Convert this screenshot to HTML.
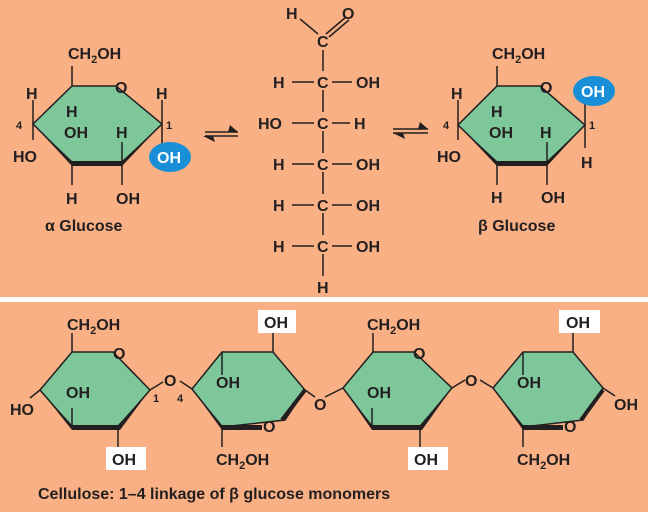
<!DOCTYPE html>
<html><head><meta charset="utf-8"><style>
html,body{margin:0;padding:0;background:#f8b084;}
svg{display:block;}
text{font-family:"Liberation Sans",sans-serif;font-weight:bold;fill:#231f20;}
</style></head><body>
<svg width="648" height="512" viewBox="0 0 648 512" xmlns="http://www.w3.org/2000/svg">
<rect width="648" height="512" fill="#f8b084"/>
<rect x="0" y="297" width="648" height="5" fill="#fff"/>
<g stroke="#231f20" stroke-width="1.5" fill="none">
<polygon points="72,86 116,86 162,124 122,163 72,163 33,124" fill="#7ec79b"/>
<polygon points="33,124 72,161 122,161 162,124 122,166 72,166" fill="#231f20" stroke="none"/>
<line x1="72" y1="86" x2="72" y2="66"/><line x1="33" y1="124" x2="33" y2="100"/><line x1="33" y1="124" x2="33" y2="140"/>
<line x1="72" y1="163" x2="72" y2="185"/><line x1="122" y1="163" x2="122" y2="185"/><line x1="122" y1="163" x2="122" y2="142"/>
<line x1="162" y1="124" x2="162" y2="100"/><line x1="162" y1="124" x2="162" y2="146"/>
<polygon points="497,86 540,86 585,125 547,163 497,163 458,125" fill="#7ec79b"/>
<polygon points="458,125 497,161 547,161 585,125 547,166 497,166" fill="#231f20" stroke="none"/>
<line x1="497" y1="86" x2="497" y2="66"/><line x1="458" y1="125" x2="458" y2="100"/><line x1="458" y1="125" x2="458" y2="140"/>
<line x1="497" y1="163" x2="497" y2="185"/><line x1="547" y1="163" x2="547" y2="185"/><line x1="547" y1="163" x2="547" y2="142"/>
<line x1="585" y1="125" x2="585" y2="103"/><line x1="585" y1="125" x2="585" y2="148"/>
<line x1="205" y1="132" x2="238" y2="132"/><line x1="205" y1="136" x2="238" y2="136"/>
<line x1="393" y1="129" x2="428" y2="129"/><line x1="393" y1="133" x2="428" y2="133"/>
<line x1="323" y1="50" x2="323" y2="71"/><line x1="323" y1="90" x2="323" y2="112"/><line x1="323" y1="131" x2="323" y2="153"/>
<line x1="323" y1="172" x2="323" y2="194"/><line x1="323" y1="213" x2="323" y2="235"/><line x1="323" y1="254" x2="323" y2="276"/>
<line x1="300" y1="19" x2="318" y2="34"/><line x1="326" y1="34" x2="346" y2="17"/><line x1="329" y1="37" x2="349" y2="20"/>
<line x1="292" y1="82" x2="314" y2="82"/><line x1="332" y1="82" x2="352" y2="82"/>
<line x1="292" y1="123" x2="314" y2="123"/><line x1="332" y1="123" x2="350" y2="123"/>
<line x1="292" y1="164" x2="314" y2="164"/><line x1="332" y1="164" x2="352" y2="164"/>
<line x1="292" y1="205" x2="314" y2="205"/><line x1="332" y1="205" x2="352" y2="205"/>
<line x1="292" y1="246" x2="314" y2="246"/><line x1="332" y1="246" x2="352" y2="246"/>
<polygon points="72,352 113,352 150,390 118,427 72,427 40,390" fill="#7ec79b"/>
<polygon points="40,390 72,425 118,425 150,390 120,430 72,430" fill="#231f20" stroke="none"/>
<line x1="72" y1="352" x2="72" y2="333"/><line x1="40" y1="390" x2="30" y2="398"/><line x1="72" y1="427" x2="72" y2="408"/>
<line x1="118" y1="427" x2="118" y2="447"/><line x1="150" y1="390" x2="163" y2="382"/><line x1="180" y1="381" x2="192" y2="389"/>
<polygon points="192,389 222,352 273,352 305,390 285,420 222,427" fill="#7ec79b"/>
<polygon points="192,389 222,425 262,425 262,430 222,430" fill="#231f20" stroke="none"/>
<line x1="282" y1="420" x2="305" y2="390" stroke-width="4"/>
<line x1="222" y1="352" x2="222" y2="375"/><line x1="273" y1="352" x2="273" y2="333"/>
<line x1="222" y1="427" x2="222" y2="447"/><line x1="305" y1="390" x2="315" y2="397"/><line x1="325" y1="397" x2="343" y2="388"/>
<polygon points="373,352 414,352 452,388 420,427 372,427 343,388" fill="#7ec79b"/>
<polygon points="343,388 372,425 420,425 452,388 422,430 372,430" fill="#231f20" stroke="none"/>
<line x1="373" y1="352" x2="373" y2="333"/><line x1="372" y1="427" x2="372" y2="408"/>
<line x1="420" y1="427" x2="420" y2="447"/><line x1="452" y1="388" x2="465" y2="380"/><line x1="480" y1="380" x2="493" y2="388"/>
<polygon points="493,388 523,352 573,352 603,388 583,420 523,427" fill="#7ec79b"/>
<polygon points="493,388 523,425 563,425 563,430 523,430" fill="#231f20" stroke="none"/>
<line x1="581" y1="420" x2="603" y2="390" stroke-width="4"/>
<line x1="523" y1="352" x2="523" y2="375"/><line x1="573" y1="352" x2="573" y2="333"/>
<line x1="523" y1="427" x2="523" y2="447"/><line x1="603" y1="388" x2="615" y2="396"/>
</g>
<g fill="#231f20">
<polygon points="230,125 238,132 228,132"/><polygon points="213,136 203,136 215,142"/>
<polygon points="420,122 428,129 418,129"/><polygon points="403,133 393,133 405,139"/>
</g>
<ellipse cx="170" cy="157" rx="21" ry="15" fill="#1a8fd8"/>
<ellipse cx="594" cy="91" rx="21" ry="15" fill="#1a8fd8"/>
<g fill="#fff">
<rect x="106" y="447" width="40" height="23"/><rect x="258" y="310" width="38" height="23"/>
<rect x="408" y="447" width="40" height="23"/><rect x="559" y="310" width="41" height="23"/>
</g>
<g font-size="16">
<text x="68" y="59">CH<tspan font-size="11" dy="4">2</tspan><tspan dy="-4">OH</tspan></text>
<text x="115" y="93">O</text>
<text x="26" y="99">H</text><text x="13" y="162">HO</text><text x="66" y="117">H</text>
<text x="64" y="138">OH</text><text x="116" y="138">H</text><text x="156" y="99">H</text>
<text x="66" y="204">H</text><text x="116" y="204">OH</text>
<text x="157" y="163" style="fill:#fff">OH</text>
<text x="45" y="231">α Glucose</text>
<text x="286" y="19">H</text><text x="342" y="19">O</text><text x="317" y="47">C</text>
<text x="273" y="88">H</text><text x="317" y="88">C</text><text x="356" y="88">OH</text>
<text x="258" y="129">HO</text><text x="317" y="129">C</text><text x="354" y="129">H</text>
<text x="273" y="170">H</text><text x="317" y="170">C</text><text x="356" y="170">OH</text>
<text x="273" y="211">H</text><text x="317" y="211">C</text><text x="356" y="211">OH</text>
<text x="273" y="252">H</text><text x="317" y="252">C</text><text x="356" y="252">OH</text>
<text x="317" y="293">H</text>
<text x="492" y="59">CH<tspan font-size="11" dy="4">2</tspan><tspan dy="-4">OH</tspan></text>
<text x="540" y="93">O</text>
<text x="451" y="99">H</text><text x="437" y="162">HO</text><text x="491" y="117">H</text>
<text x="489" y="138">OH</text><text x="540" y="138">H</text><text x="581" y="168">H</text>
<text x="491" y="203">H</text><text x="541" y="203">OH</text>
<text x="581" y="97" style="fill:#fff">OH</text>
<text x="478" y="231">β Glucose</text>
<text x="67" y="330">CH<tspan font-size="11" dy="4">2</tspan><tspan dy="-4">OH</tspan></text>
<text x="113" y="359">O</text><text x="66" y="398">OH</text><text x="10" y="415">HO</text>
<text x="164" y="386">O</text><text x="112" y="465">OH</text>
<text x="216" y="388">OH</text><text x="264" y="328">OH</text><text x="263" y="432">O</text>
<text x="216" y="465">CH<tspan font-size="11" dy="4">2</tspan><tspan dy="-4">OH</tspan></text>
<text x="314" y="410">O</text>
<text x="367" y="330">CH<tspan font-size="11" dy="4">2</tspan><tspan dy="-4">OH</tspan></text>
<text x="413" y="359">O</text><text x="367" y="398">OH</text>
<text x="465" y="386">O</text><text x="414" y="465">OH</text>
<text x="517" y="388">OH</text><text x="566" y="328">OH</text><text x="564" y="432">O</text>
<text x="517" y="465">CH<tspan font-size="11" dy="4">2</tspan><tspan dy="-4">OH</tspan></text>
<text x="614" y="410">OH</text>
<text x="38" y="499">Cellulose: 1–4 linkage of β glucose monomers</text>
</g>
<g font-size="11">
<text x="16" y="129">4</text><text x="166" y="129">1</text>
<text x="443" y="129">4</text><text x="589" y="129">1</text>
<text x="153" y="402">1</text><text x="177" y="402">4</text>
</g>
</svg>
</body></html>
